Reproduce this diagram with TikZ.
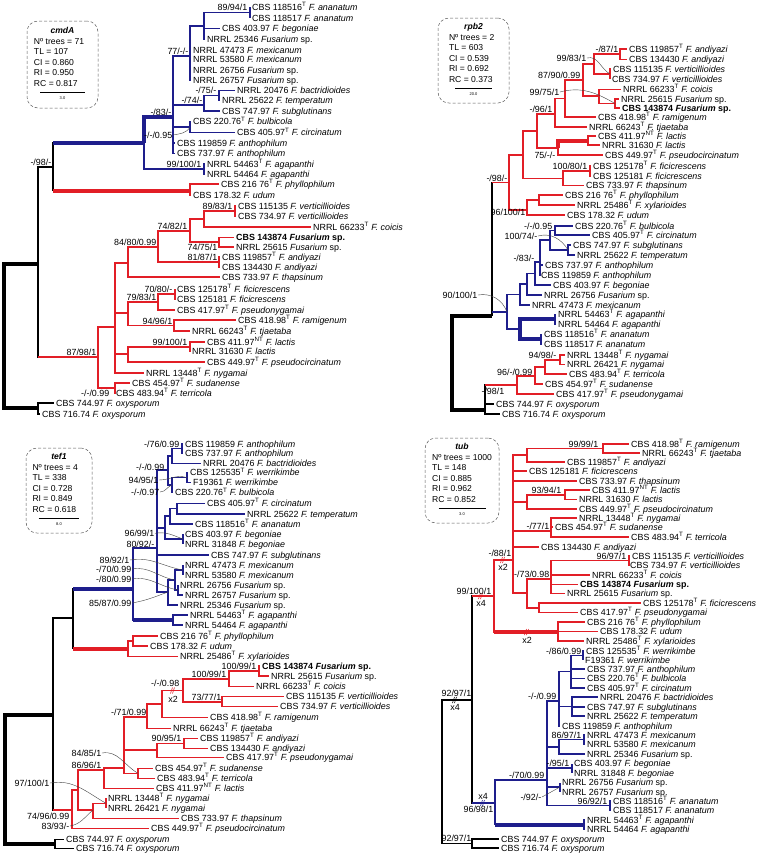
\documentclass[tikz,border=0pt]{standalone}
\usepackage{fontspec}
\setmainfont{Liberation Sans}
\usetikzlibrary{calc}
\definecolor{redb}{RGB}{226,30,38}
\definecolor{blueb}{RGB}{30,30,140}
\newcommand{\fs}{\fontsize{8.9}{10.5}\selectfont}
\newcommand{\fb}{\fontsize{8.6}{10.5}\selectfont}
\newcommand{\tp}{\textsuperscript{T}}
\newcommand{\ntp}{\textsuperscript{NT}}
\newcommand{\fu}[1]{\textit{F. #1}}
\newcommand{\fsp}{\textit{Fusarium} sp.}
\newcommand{\nov}{\textbf{CBS 143874 \textit{Fusarium} sp.}}
\newcommand{\brk}[3]{\draw[#3,line width=0.6pt] (#1-2.5,#2+3) -- ++(2,-6) (#1-0.5,#2+3) -- ++(2,-6);}
\newcommand{\stats}[8]{\begin{tabular}{@{}l@{}}\multicolumn{1}{c}{\textbf{\textit{#1}}}\\ Nº trees = #2\\ TL = #3\\ CI = #4\\ RI = #5\\ RC = #6\\[-2pt] \multicolumn{1}{c}{\rule[2pt]{#7pt}{0.7pt}}\\[-5.5pt] \multicolumn{1}{c}{\fontsize{4}{4}\selectfont #8}\end{tabular}}
\tikzset{lf/.style={anchor=west,inner xsep=2pt,inner ysep=0pt,text height=6.3pt,text depth=0pt,font=\fs},
  bs/.style={anchor=east,inner xsep=0.5pt,inner ysep=0pt,text height=6.3pt,text depth=0pt,font=\fs},
  xm/.style={inner sep=0pt,font=\fs},
  bk/.style={draw=black,line width=1.2pt},
  rd/.style={draw=redb,line width=1.2pt},
  bl/.style={draw=blueb,line width=1.2pt},
  thk/.style={line width=4pt},
  lead/.style={draw=black!75,line width=0.4pt},
  sbox/.style={draw=black!65,densely dashed,line width=0.5pt,rounded corners=11pt,inner sep=0pt,font=\fb}}

\begin{document}
\begin{tikzpicture}[x=1pt,y=-1pt]
\useasboundingbox (0,0) rectangle (757,855);
% cmdA
\node[sbox,minimum width=71pt,minimum height=87pt] (cbox) at (62.5,64.5) {\stats{cmdA}{71}{107}{0.860}{0.950}{0.817}{45}{3.0}};
\node[lf] (c1) at (250,7.3) {CBS 118516\tp{} \fu{ananatum}};
\node[lf] (c2) at (250,18) {CBS 118517 \fu{ananatum}};
\node[lf] (c3) at (220,28.7) {CBS 403.97 \fu{begoniae}};
\node[lf] (c4) at (205,39.3) {NRRL 25346 \fsp};
\node[lf] (c5) at (191,50) {NRRL 47473 \fu{mexicanum}};
\node[lf] (c6) at (191,59.5) {NRRL 53580 \fu{mexicanum}};
\node[lf] (c7) at (191,70.5) {NRRL 26756 \fsp};
\node[lf] (c8) at (191,80) {NRRL 26757 \fsp};
\node[lf] (c9) at (235,90.7) {NRRL 20476 \fu{bactridioides}};
\node[lf] (c10) at (220,100.7) {NRRL 25622 \fu{temperatum}};
\node[lf] (c11) at (220,111) {CBS 747.97 \fu{subglutinans}};
\node[lf] (c12) at (191,121.7) {CBS 220.76\tp{} \fu{bulbicola}};
\node[lf] (c13) at (235,132.7) {CBS 405.97\tp{} \fu{circinatum}};
\node[lf] (c14) at (175,143) {CBS 119859 \fu{anthophilum}};
\node[lf] (c15) at (175,153.5) {CBS 737.97 \fu{anthophilum}};
\node[lf] (c16) at (205,164) {NRRL 54463\tp{} \fu{agapanthi}};
\node[lf] (c17) at (205,174) {NRRL 54464 \fu{agapanthi}};
\node[lf] (c18) at (219,184) {CBS 216 76\tp{} \fu{phyllophilum}};
\node[lf] (c19) at (191,195) {CBS 178.32 \fu{udum}};
\node[lf] (c20) at (236,206) {CBS 115135 \fu{verticillioides}};
\node[lf] (c21) at (236,216) {CBS 734.97 \fu{verticillioides}};
\node[lf] (c22) at (311,227) {NRRL 66233\tp{} \fu{coicis}};
\node[lf] (c23) at (234,237.5) {\nov};
\node[lf] (c24) at (234,247) {NRRL 25615 \fsp};
\node[lf] (c25) at (220,257) {CBS 119857\tp{} \fu{andiyazi}};
\node[lf] (c26) at (220,267.5) {CBS 134430 \fu{andiyazi}};
\node[lf] (c27) at (220,277) {CBS 733.97 \fu{thapsinum}};
\node[lf] (c28) at (175,289) {CBS 125178\tp{} \fu{ficicrescens}};
\node[lf] (c29) at (175,299.5) {CBS 125181 \fu{ficicrescens}};
\node[lf] (c30) at (175,310) {CBS 417.97\tp{} \fu{pseudonygamai}};
\node[lf] (c31) at (236,320) {CBS 418.98\tp{} \fu{ramigenum}};
\node[lf] (c32) at (190,331) {NRRL 66243\tp{} \fu{tjaetaba}};
\node[lf] (c33) at (205,342) {CBS 411.97\ntp{} \fu{lactis}};
\node[lf] (c34) at (190,351.5) {NRRL 31630 \fu{lactis}};
\node[lf] (c35) at (205,362) {CBS 449.97\tp{} \fu{pseudocircinatum}};
\node[lf] (c36) at (144,373) {NRRL 13448\tp{} \fu{nygamai}};
\node[lf] (c37) at (130,383) {CBS 454.97\tp{} \fu{sudanense}};
\node[lf] (c38) at (114,393) {CBS 483.94\tp{} \fu{terricola}};
\node[lf] (c39) at (54,403) {CBS 744.97 \fu{oxysporum}};
\node[lf] (c40) at (40,414) {CBS 716.74 \fu{oxysporum}};
\coordinate (ca1) at (250,12.5);
\coordinate (ca2) at (204,26);
\coordinate (ca3) at (190,56);
\coordinate (ca4) at (219,95.7);
\coordinate (ca5) at (204,105);
\coordinate (ca6) at (190,127);
\coordinate (ca7) at (173,117);
\coordinate (ca8) at (144,143);
\coordinate (ca9) at (204,169);
\coordinate (ca10) at (190,190.7);
\coordinate (ca11) at (53,167);
\coordinate (ca12) at (235,211);
\coordinate (ca13) at (204,219);
\coordinate (ca14) at (219,242);
\coordinate (ca15) at (190,231);
\coordinate (ca16) at (219,262);
\coordinate (ca17) at (158,247);
\coordinate (ca18) at (128,263);
\coordinate (ca19) at (175,294);
\coordinate (ca20) at (158,302);
\coordinate (ca21) at (174,325.5);
\coordinate (ca22) at (128,313);
\coordinate (ca23) at (190,347);
\coordinate (ca24) at (128,354);
\coordinate (ca25) at (115,327);
\coordinate (ca26) at (115,388);
\coordinate (ca27) at (98,357);
\coordinate (ca28) at (38,264);
\coordinate (ca29) at (38,408);
\coordinate (ca30) at (4,336);
\draw[bl] (ca1) |- (c1.west) (ca1) |- (c2.west);
\draw[bl] (ca2) |- (ca1) (ca2) |- (c3.west) (ca2) |- (c4.west);
\draw[bl] (ca3) |- (ca2) (ca3) |- (c5.west) (ca3) |- (c6.west) (ca3) |- (c7.west) (ca3) |- (c8.west);
\draw[bl] (ca4) |- (c9.west) (ca4) |- (c10.west);
\draw[bl] (ca5) |- (ca4) (ca5) |- (c11.west);
\draw[bl] (ca6) |- (c12.west) (ca6) |- (c13.west);
\draw[bl] (ca7) |- (ca3) (ca7) |- (ca5) (ca7) |- (ca6) (ca7) |- (c14.west) (ca7) |- (c15.west);
\draw[bl,thk] (ca8) |- (ca7);
\draw[bl] (ca8) |- (ca9);
\draw[bl] (ca9) |- (c16.west) (ca9) |- (c17.west);
\draw[rd] (ca10) |- (c18.west) (ca10) |- (c19.west);
\draw[bk] (ca11) |- (ca8) (ca11) |- (ca10);
\draw[bl,thk] (ca11 |- ca8) -- (ca8);
\draw[rd,thk] (ca11 |- ca10) -- (ca10);
\draw[rd] (ca12) |- (c20.west) (ca12) |- (c21.west);
\draw[rd] (ca13) |- (ca12) (ca13) |- (c22.west);
\draw[rd] (ca14) |- (c23.west) (ca14) |- (c24.west);
\draw[rd] (ca15) |- (ca13) (ca15) |- (ca14);
\draw[rd] (ca16) |- (c25.west) (ca16) |- (c26.west);
\draw[rd] (ca17) |- (ca15) (ca17) |- (ca16);
\draw[rd] (ca18) |- (ca17) (ca18) |- (c27.west);
\draw[rd] (ca19) |- (c28.west) (ca19) |- (c29.west);
\draw[rd] (ca20) |- (ca19) (ca20) |- (c30.west);
\draw[rd] (ca21) |- (c31.west) (ca21) |- (c32.west);
\draw[rd] (ca22) |- (ca20) (ca22) |- (ca21);
\draw[rd] (ca23) |- (c33.west) (ca23) |- (c34.west);
\draw[rd] (ca24) |- (ca23) (ca24) |- (c35.west);
\draw[rd] (ca25) |- (ca18) (ca25) |- (ca22) (ca25) |- (ca24) (ca25) |- (c36.west);
\draw[rd] (ca26) |- (c37.west) (ca26) |- (c38.west);
\draw[rd] (ca27) |- (ca25) (ca27) |- (ca26);
\draw[bk] (ca28) |- (ca11) (ca28) |- (ca27);
\draw[rd] (ca28 |- ca27) -- (ca27);
\draw[bk] (ca29) |- (c39.west) (ca29) |- (c40.west);
\draw[bk,thk] (ca30) |- (ca28) (ca30) |- (ca29);
\node[bs] (lca1) at (248,7.3) {89/94/1};
\node[bs] (lca3) at (189,51) {77/-/-};
\node[bs] (lca4) at (217,90.7) {-/75/-};
\node[bs] (lca5) at (203,100.5) {-/74/-};
\node[bs] (lca6) at (173,135) {-/-/0.95};
\node[bs] (lca7) at (172,112.5) {-/83/-};
\node[bs] (lca9) at (202,164) {99/100/1};
\node[bs] (lca11) at (52,162.5) {-/98/-};
\node[bs] (lca12) at (233,206.5) {89/83/1};
\node[bs] (lca15) at (188,226.5) {74/82/1};
\node[bs] (lca14) at (218,247) {74/75/1};
\node[bs] (lca16) at (218,257) {81/87/1};
\node[bs] (lca17) at (157,242.5) {84/80/0.99};
\node[bs] (lca19) at (173,289) {70/80/-};
\node[bs] (lca20) at (157,297) {79/83/1};
\node[bs] (lca21) at (173,321) {94/96/1};
\node[bs] (lca23) at (188,342) {99/100/1};
\node[bs] (lca27) at (97,352) {87/98/1};
\node[bs] (lca26) at (110,393) {-/-/0.99};
\draw[lead] (lca6.east) to[out=10,in=-120] (ca6);
% rpb2
\node[sbox,minimum width=71pt,minimum height=85pt] (rbox) at (473.5,60.5) {\stats{rpb2}{2}{603}{0.539}{0.692}{0.373}{37}{20.0}};
\node[lf] (r1) at (627,49) {CBS 119857\tp{} \fu{andiyazi}};
\node[lf] (r2) at (627,59.5) {CBS 134430 \fu{andiyazi}};
\node[lf] (r3) at (611,69) {CBS 115135 \fu{verticillioides}};
\node[lf] (r4) at (610,79) {CBS 734.97 \fu{verticillioides}};
\node[lf] (r5) at (621,89.5) {NRRL 66233\tp{} \fu{coicis}};
\node[lf] (r6) at (619,99) {NRRL 25615 \fsp};
\node[lf] (r7) at (620,108) {\nov};
\node[lf] (r8) at (596,117) {CBS 418.98\tp{} \fu{ramigenum}};
\node[lf] (r9) at (587,127) {NRRL 66243\tp{} \fu{tjaetaba}};
\node[lf] (r10) at (596,136) {CBS 411.97\ntp{} \fu{lactis}};
\node[lf] (r11) at (600,145) {NRRL 31630 \fu{lactis}};
\node[lf] (r12) at (603,155) {CBS 449.97\tp{} \fu{pseudocircinatum}};
\node[lf] (r13) at (591,166) {CBS 125178\tp{} \fu{ficicrescens}};
\node[lf] (r14) at (591,176) {CBS 125181 \fu{ficicrescens}};
\node[lf] (r15) at (584,185.5) {CBS 733.97 \fu{thapsinum}};
\node[lf] (r16) at (563,195) {CBS 216 76\tp{} \fu{phyllophilum}};
\node[lf] (r17) at (575,205) {NRRL 25486\tp{} \fu{xylarioides}};
\node[lf] (r18) at (565,215) {CBS 178.32 \fu{udum}};
\node[lf] (r19) at (573,226) {CBS 220.76\tp{} \fu{bulbicola}};
\node[lf] (r20) at (590,235) {CBS 405.97\tp{} \fu{circinatum}};
\node[lf] (r21) at (571,245) {CBS 747.97 \fu{subglutinans}};
\node[lf] (r22) at (575,255) {NRRL 25622 \fu{temperatum}};
\node[lf] (r23) at (543,265) {CBS 737.97 \fu{anthophilum}};
\node[lf] (r24) at (539,275) {CBS 119859 \fu{anthophilum}};
\node[lf] (r25) at (551,285) {CBS 403.97 \fu{begoniae}};
\node[lf] (r26) at (542,295) {NRRL 26756 \fsp};
\node[lf] (r27) at (530,305) {NRRL 47473 \fu{mexicanum}};
\node[lf] (r28) at (556,314.5) {NRRL 54463\tp{} \fu{agapanthi}};
\node[lf] (r29) at (556,324) {NRRL 54464 \fu{agapanthi}};
\node[lf] (r30) at (542,334.5) {CBS 118516\tp{} \fu{ananatum}};
\node[lf] (r31) at (542,344) {CBS 118517 \fu{ananatum}};
\node[lf] (r32) at (565,355) {NRRL 13448\tp{} \fu{nygamai}};
\node[lf] (r33) at (565,364.5) {NRRL 26421 \fu{nygamai}};
\node[lf] (r34) at (567,374) {CBS 483.94\tp{} \fu{terricola}};
\node[lf] (r35) at (543,384) {CBS 454.97\tp{} \fu{sudanense}};
\node[lf] (r36) at (554,394) {CBS 417.97\tp{} \fu{pseudonygamai}};
\node[lf] (r37) at (494,404) {CBS 744.97 \fu{oxysporum}};
\node[lf] (r38) at (500,414) {CBS 716.74 \fu{oxysporum}};
\coordinate (ra1) at (620,54);
\coordinate (ra2) at (610,74);
\coordinate (ra3) at (594,64);
\coordinate (ra4) at (615,103.5);
\coordinate (ra5) at (599,96);
\coordinate (ra6) at (583,80);
\coordinate (ra7) at (565,98.5);
\coordinate (ra8) at (555,114);
\coordinate (ra9) at (588,140.5);
\coordinate (ra10) at (558,148);
\coordinate (ra11) at (537,131);
\coordinate (ra12) at (590,171);
\coordinate (ra13) at (563,178.5);
\coordinate (ra14) at (523,155);
\coordinate (ra15) at (539,200);
\coordinate (ra16) at (527,210);
\coordinate (ra17) at (509,182.5);
\coordinate (rb1) at (555,230.5);
\coordinate (rb2) at (568,250);
\coordinate (rb3) at (550,240);
\coordinate (rb4) at (540,262);
\coordinate (rb5) at (535,273.5);
\coordinate (rb6) at (527,284);
\coordinate (rb7) at (520,294.5);
\coordinate (rb8) at (555,319);
\coordinate (rb9) at (541,339);
\coordinate (rb10) at (520,329);
\coordinate (rb11) at (507,312);
\coordinate (rn1) at (560,360);
\coordinate (rn2) at (545,367);
\coordinate (rn3) at (535,376);
\coordinate (rn4) at (517,385);
\coordinate (rk1) at (492,316);
\coordinate (rk2) at (485,410);
\coordinate (rk0) at (452,363);
\draw[rd] (ra1) |- (r1.west) (ra1) |- (r2.west);
\draw[rd] (ra2) |- (r3.west) (ra2) |- (r4.west);
\draw[rd] (ra3) |- (ra1) (ra3) |- (ra2);
\draw[rd] (ra4) |- (r6.west) (ra4) |- (r7.west);
\draw[rd] (ra5) |- (r5.west) (ra5) |- (ra4);
\draw[rd] (ra6) |- (ra3) (ra6) |- (ra5);
\draw[rd] (ra7) |- (ra6) (ra7) |- (r8.west);
\draw[rd] (ra8) |- (ra7) (ra8) |- (r9.west);
\draw[rd] (ra9) |- (r10.west) (ra9) |- (r11.west);
\draw[rd,thk] (ra10) |- (ra9);
\draw[rd] (ra10) |- (r12.west);
\draw[rd] (ra11) |- (ra8) (ra11) |- (ra10);
\draw[rd] (ra12) |- (r13.west) (ra12) |- (r14.west);
\draw[rd] (ra13) |- (ra12) (ra13) |- (r15.west);
\draw[rd] (ra14) |- (ra11) (ra14) |- (ra13);
\draw[rd] (ra15) |- (r16.west) (ra15) |- (r17.west);
\draw[rd] (ra16) |- (ra15) (ra16) |- (r18.west);
\draw[rd] (ra17) |- (ra14) (ra17) |- (ra16);
\draw[bl] (rb1) |- (r19.west) (rb1) |- (r20.west);
\draw[bl] (rb2) |- (r21.west) (rb2) |- (r22.west);
\draw[bl] (rb3) |- (rb1) (rb3) |- (rb2);
\draw[bl] (rb4) |- (rb3) (rb4) |- (r23.west) (rb4) |- (r24.west);
\draw[bl] (rb5) |- (rb4) (rb5) |- (r25.west);
\draw[bl] (rb6) |- (rb5) (rb6) |- (r26.west);
\draw[bl] (rb7) |- (rb6) (rb7) |- (r27.west);
\draw[bl] (rb8) |- (r28.west) (rb8) |- (r29.west);
\draw[bl] (rb9) |- (r30.west) (rb9) |- (r31.west);
\draw[bl,thk] (rb10) |- (rb8) (rb10) |- (rb9);
\draw[bl] (rb11) |- (rb7) (rb11) |- (rb10);
\draw[rd] (rn1) |- (r32.west) (rn1) |- (r33.west);
\draw[rd] (rn2) |- (rn1) (rn2) |- (r34.west);
\draw[rd] (rn3) |- (rn2) (rn3) |- (r35.west);
\draw[rd] (rn4) |- (rn3) (rn4) |- (r36.west);
\draw[bk] (rk1) |- (ra17) (rk1) |- (rb11);
\draw[rd] (rk1 |- ra17) -- (ra17);
\draw[bl] (rk1 |- rb11) -- (rb11);
\draw[bk] (rk2) |- (rn4) (rk2) |- (r37.west) (rk2) |- (r38.west);
\draw[rd] (rk2 |- rn4) -- (rn4);
\draw[bk,thk] (rk0) |- (rk1) (rk0) |- (rk2);
\node[bs] (lra1) at (619,49) {-/87/1};
\node[bs] (lra2) at (587,58) {99/83/1};
\node[bs] (lra4) at (560,92) {99/75/1};
\node[bs] (lra6) at (581,75) {87/90/0.99};
\node[bs] (lra8) at (553,109.5) {-/96/1};
\node[bs] (lra10) at (556,155) {75/-/-};
\node[bs] (lra12) at (588,166) {100/80/1};
\node[bs] (lra16) at (526,212.5) {96/100/1};
\node[bs] (lra17) at (508,178) {-/98/-};
\node[bs] (lrb1) at (553,226) {-/-/0.95};
\node[bs] (lrb2) at (538,236) {100/74/-};
\node[bs] (lrb4) at (535,258) {-/83/-};
\node[bs] (lrb11) at (478,295) {90/100/1};
\node[bs] (lrn1) at (557,355) {94/98/-};
\node[bs] (lrn3) at (533,372) {96/-/0.99};
\node[bs] (lrn4) at (505,391) {-/98/1};
\draw[lead] (lra2.east) to[out=15,in=150] (ra2);
\draw[lead] (lra4.east) to[out=15,in=150] (ra4);
\draw[lead] (lrb2.east) to[out=15,in=120] (rb2);
\draw[lead] (lrb11.east) to[out=10,in=110] (rb11);
% tef1
\node[sbox,minimum width=66pt,minimum height=85pt] (tbox) at (59,490.5) {\stats{tef1}{4}{338}{0.728}{0.849}{0.618}{41}{8.0}};
\node[lf] (t1) at (183,444) {CBS 119859 \fu{anthophilum}};
\node[lf] (t2) at (183,453.3) {CBS 737.97 \fu{anthophilum}};
\node[lf] (t3) at (201,463.3) {NRRL 20476 \fu{bactridioides}};
\node[lf] (t4) at (188,472.7) {CBS 125535\tp{} \fu{werrikimbe}};
\node[lf] (t5) at (191,482.7) {F19361 \fu{werrikimbe}};
\node[lf] (t6) at (173,492.7) {CBS 220.76\tp{} \fu{bulbicola}};
\node[lf] (t7) at (205,503.3) {CBS 405.97\tp{} \fu{circinatum}};
\node[lf] (t8) at (245,514) {NRRL 25622 \fu{temperatum}};
\node[lf] (t9) at (193,524) {CBS 118516\tp{} \fu{ananatum}};
\node[lf] (t10) at (183,534) {CBS 403.97 \fu{begoniae}};
\node[lf] (t11) at (183,544.3) {NRRL 31848 \fu{begoniae}};
\node[lf] (t12) at (209,555) {CBS 747.97 \fu{subglutinans}};
\node[lf] (t13) at (183,565) {NRRL 47473 \fu{mexicanum}};
\node[lf] (t14) at (183,575) {NRRL 53580 \fu{mexicanum}};
\node[lf] (t15) at (178,585) {NRRL 26756 \fsp};
\node[lf] (t16) at (183,595) {NRRL 26757 \fsp};
\node[lf] (t17) at (178,605) {NRRL 25346 \fsp};
\node[lf] (t18) at (188,615) {NRRL 54463\tp{} \fu{agapanthi}};
\node[lf] (t19) at (183,625) {NRRL 54464 \fu{agapanthi}};
\node[lf] (t20) at (158,636) {CBS 216 76\tp{} \fu{phyllophilum}};
\node[lf] (t21) at (148,646) {CBS 178.32 \fu{udum}};
\node[lf] (t22) at (178,656.5) {NRRL 25486\tp{} \fu{xylarioides}};
\node[lf] (t23) at (260,666) {\nov};
\node[lf] (t24) at (269,676) {NRRL 25615 \fsp};
\node[lf] (t25) at (254,686.5) {NRRL 66233\tp{} \fu{coicis}};
\node[lf] (t26) at (284,696.7) {CBS 115135 \fu{verticillioides}};
\node[lf] (t27) at (278,706.7) {CBS 734.97 \fu{verticillioides}};
\node[lf] (t28) at (208,717.3) {CBS 418.98\tp{} \fu{ramigenum}};
\node[lf] (t29) at (171,728.3) {NRRL 66243\tp{} \fu{tjaetaba}};
\node[lf] (t30) at (198,738.3) {CBS 119857\tp{} \fu{andiyazi}};
\node[lf] (t31) at (208,748.3) {CBS 134430 \fu{andiyazi}};
\node[lf] (t32) at (224,757.5) {CBS 417.97\tp{} \fu{pseudonygamai}};
\node[lf] (t33) at (153,768.3) {CBS 454.97\tp{} \fu{sudanense}};
\node[lf] (t34) at (155,778.3) {CBS 483.94\tp{} \fu{terricola}};
\node[lf] (t35) at (154,788.3) {CBS 411.97\ntp{} \fu{lactis}};
\node[lf] (t36) at (106,798.3) {NRRL 13448\tp{} \fu{nygamai}};
\node[lf] (t37) at (106,808.3) {NRRL 26421 \fu{nygamai}};
\node[lf] (t38) at (179,818.3) {CBS 733.97 \fu{thapsinum}};
\node[lf] (t39) at (149,828.3) {CBS 449.97\tp{} \fu{pseudocircinatum}};
\node[lf] (t40) at (64,839.3) {CBS 744.97 \fu{oxysporum}};
\node[lf] (t41) at (74,848.3) {CBS 716.74 \fu{oxysporum}};
\coordinate (ta1) at (182,448.7);
\coordinate (ta2) at (172,456);
\coordinate (ta3) at (187,477.7);
\coordinate (ta4) at (172,485);
\coordinate (ta5) at (168,470);
\coordinate (ta6) at (177,508.7);
\coordinate (ta7) at (170,516);
\coordinate (ta8) at (183,539);
\coordinate (ta9) at (165,528);
\coordinate (ta10) at (183,570);
\coordinate (ta11) at (178,590);
\coordinate (ta12) at (175,580);
\coordinate (ta13) at (168,592);
\coordinate (ta14) at (157,548);
\coordinate (ta15) at (173,620);
\coordinate (ta16) at (133,589);
\coordinate (tp1) at (133,641);
\coordinate (tp2) at (128,648.5);
\coordinate (tj) at (73,618);
\coordinate (tr1) at (259,671);
\coordinate (tr2) at (229,679);
\coordinate (tr3) at (222,702);
\coordinate (tr4) at (183,690.5);
\coordinate (tr5) at (162,704);
\coordinate (tr6) at (147,717);
\coordinate (tr7) at (184,743.3);
\coordinate (tr8) at (157,750);
\coordinate (tr9) at (138,773.3);
\coordinate (tr10) at (124,768);
\coordinate (tr11) at (104,770);
\coordinate (tr12) at (106,803.3);
\coordinate (tr13) at (93,810);
\coordinate (tr14) at (78,790);
\coordinate (tr15) at (72,810);
\coordinate (tk) at (53,715);
\coordinate (tox) at (55,843.8);
\coordinate (tk0) at (5,779);
\draw[bl] (ta1) |- (t1.west) (ta1) |- (t2.west);
\draw[bl] (ta2) |- (ta1) (ta2) |- (t3.west);
\draw[bl] (ta3) |- (t4.west) (ta3) |- (t5.west);
\draw[bl] (ta4) |- (ta3) (ta4) |- (t6.west);
\draw[bl] (ta5) |- (ta2) (ta5) |- (ta4);
\draw[bl] (ta6) |- (t7.west) (ta6) |- (t8.west);
\draw[bl] (ta7) |- (ta6) (ta7) |- (t9.west);
\draw[bl] (ta8) |- (t10.west) (ta8) |- (t11.west);
\draw[bl] (ta9) |- (ta7) (ta9) |- (ta8);
\draw[bl] (ta10) |- (t13.west) (ta10) |- (t14.west);
\draw[bl] (ta11) |- (t15.west) (ta11) |- (t16.west);
\draw[bl] (ta12) |- (ta10) (ta12) |- (ta11);
\draw[bl] (ta13) |- (ta12) (ta13) |- (t17.west);
\draw[bl] (ta14) |- (ta5) (ta14) |- (ta9) (ta14) |- (t12.west) (ta14) |- (ta13);
\draw[bl] (ta15) |- (t18.west) (ta15) |- (t19.west);
\draw[bl] (ta16) |- (ta14) (ta16) |- (ta15);
\draw[bl,thk] (ta16 |- ta15) -- (ta15);
\draw[rd] (tp1) |- (t20.west) (tp1) |- (t21.west);
\draw[rd] (tp2) |- (tp1) (tp2) |- (t22.west);
\draw[bk] (tj) |- (ta16) (tj) |- (tp2);
\draw[bl,thk] (tj |- ta16) -- (ta16);
\draw[rd,thk] (tj |- tp2) -- (tp2);
\draw[rd] (tr1) |- (t23.west) (tr1) |- (t24.west);
\draw[rd] (tr2) |- (tr1) (tr2) |- (t25.west);
\draw[rd] (tr3) |- (t26.west) (tr3) |- (t27.west);
\draw[rd] (tr4) |- (tr2) (tr4) |- (tr3);
\draw[rd] (tr5) |- (tr4) (tr5) |- (t28.west);
\draw[rd] (tr6) |- (tr5) (tr6) |- (t29.west);
\draw[rd] (tr7) |- (t30.west) (tr7) |- (t31.west);
\draw[rd] (tr8) |- (tr7) (tr8) |- (t32.west);
\draw[rd] (tr9) |- (t33.west) (tr9) |- (t34.west);
\draw[rd] (tr10) |- (tr6) (tr10) |- (tr8) (tr10) |- (tr9);
\draw[rd] (tr11) |- (tr10) (tr11) |- (t35.west);
\draw[rd] (tr12) |- (t36.west) (tr12) |- (t37.west);
\draw[rd] (tr13) |- (tr12) (tr13) |- (t38.west);
\draw[rd] (tr14) |- (tr11) (tr14) |- (tr13);
\draw[rd] (tr15) |- (tr14) (tr15) |- (t39.west);
\draw[bk] (tk) |- (tj) (tk) |- (tr15);
\draw[rd] (tk |- tr15) -- (tr15);
\draw[bk] (tox) |- (t40.west) (tox) |- (t41.west);
\draw[bk,thk] (tk0) |- (tk) (tk0) |- (tox);
\brk{173}{690.5}{redb}
\node[xm] (tx2) at (173,699) {x2};
\node[bs] (lta1) at (180,444) {-/76/0.99};
\node[bs] (lta5) at (165,467) {-/-/0.99};
\node[bs] (lta3) at (159,480) {94/95/1};
\node[bs] (lta4) at (160,492) {-/-/0.97};
\node[bs] (lta8) at (155,533.3) {96/99/1};
\node[bs] (lta14) at (155,544) {80/92/-};
\node[bs] (lta10) at (130,560) {89/92/1};
\node[bs] (lta12) at (132,569) {-/70/0.99};
\node[bs] (lta11) at (132,579) {-/80/0.99};
\node[bs] (lta13) at (132,603) {85/87/0.99};
\node[bs] (ltr1) at (257,666) {100/99/1};
\node[bs] (ltr2) at (227,674) {100/99/1};
\node[bs] (ltr4) at (180,683) {-/-/0.98};
\node[bs] (ltr3) at (222,697) {73/77/1};
\node[bs] (ltr6) at (147,712.5) {-/71/0.99};
\node[bs] (ltr7) at (182,738.3) {90/95/1};
\node[bs] (ltr9) at (102,753) {84/85/1};
\node[bs] (ltr11) at (102,765) {86/96/1};
\node[bs] (ltr12) at (50,783) {97/100/1};
\node[bs] (ltr15) at (70,816) {74/96/0.99};
\node[bs] (ltr13) at (70,826) {83/93/-};
\draw[lead] (lta3.east) to[out=0,in=160] (ta3);
\draw[lead] (lta4.east) to[out=0,in=200] (ta4);
\draw[lead] (lta8.east) to[out=10,in=160] (ta8);
\draw[lead] (lta10.east) to[out=10,in=170] (ta10);
\draw[lead] (lta12.east) to[out=10,in=170] (ta12);
\draw[lead] (lta11.east) to[out=10,in=170] (ta11);
\draw[lead] (lta13.east) to[out=10,in=200] (ta13);
\draw[lead] (ltr9.east) to[out=10,in=150] (tr9);
\draw[lead] (ltr12.east) to[out=10,in=150] (tr12);
\draw[lead] (ltr13.east) to[out=10,in=220] (tr13);
% tub
\node[sbox,minimum width=74pt,minimum height=85pt] (ubox) at (462,480.5) {\stats{tub}{1000}{148}{0.885}{0.962}{0.852}{47}{3.0}};
\node[lf] (u1) at (629,444) {CBS 418.98\tp{} \fu{ramigenum}};
\node[lf] (u2) at (640,453) {NRRL 66243\tp{} \fu{tjaetaba}};
\node[lf] (u3) at (565,462) {CBS 119857\tp{} \fu{andiyazi}};
\node[lf] (u4) at (527,471) {CBS 125181 \fu{ficicrescens}};
\node[lf] (u5) at (577,481) {CBS 733.97 \fu{thapsinum}};
\node[lf] (u6) at (590,490) {CBS 411.97\ntp{} \fu{lactis}};
\node[lf] (u7) at (577,499.5) {NRRL 31630 \fu{lactis}};
\node[lf] (u8) at (577,509) {CBS 449.97\tp{} \fu{pseudocircinatum}};
\node[lf] (u9) at (577,518) {NRRL 13448\tp{} \fu{nygamai}};
\node[lf] (u10) at (553,527) {CBS 454.97\tp{} \fu{sudanense}};
\node[lf] (u11) at (629,537) {CBS 483.94\tp{} \fu{terricola}};
\node[lf] (u12) at (539,547) {CBS 134430 \fu{andiyazi}};
\node[lf] (u13) at (630,556) {CBS 115135 \fu{verticillioides}};
\node[lf] (u14) at (628,565) {CBS 734.97 \fu{verticillioides}};
\node[lf] (u15) at (590,575) {NRRL 66233\tp{} \fu{coicis}};
\node[lf] (u16) at (578,584.5) {\nov};
\node[lf] (u17) at (565,593.5) {NRRL 25615 \fsp};
\node[lf] (u18) at (641,603) {CBS 125178\tp{} \fu{ficicrescens}};
\node[lf] (u19) at (578,612.5) {CBS 417.97\tp{} \fu{pseudonygamai}};
\node[lf] (u20) at (585,622) {CBS 216 76\tp{} \fu{phyllophilum}};
\node[lf] (u21) at (598,631.5) {CBS 178.32 \fu{udum}};
\node[lf] (u22) at (584,641) {NRRL 25486\tp{} \fu{xylarioides}};
\node[lf] (u23) at (584,651) {CBS 125535\tp{} \fu{werrikimbe}};
\node[lf] (u24) at (583,660) {F19361 \fu{werrikimbe}};
\node[lf] (u25) at (585,669) {CBS 737.97 \fu{anthophilum}};
\node[lf] (u26) at (585,678.5) {CBS 220.76\tp{} \fu{bulbicola}};
\node[lf] (u27) at (585,688) {CBS 405.97\tp{} \fu{circinatum}};
\node[lf] (u28) at (598,697) {NRRL 20476 \fu{bactridioides}};
\node[lf] (u29) at (585,707) {CBS 747.97 \fu{subglutinans}};
\node[lf] (u30) at (585,716) {NRRL 25622 \fu{temperatum}};
\node[lf] (u31) at (560,726) {CBS 119859 \fu{anthophilum}};
\node[lf] (u32) at (585,735) {NRRL 47473 \fu{mexicanum}};
\node[lf] (u33) at (585,744.5) {NRRL 53580 \fu{mexicanum}};
\node[lf] (u34) at (585,754) {NRRL 25346 \fsp};
\node[lf] (u35) at (572,763.5) {CBS 403.97 \fu{begoniae}};
\node[lf] (u36) at (572,773) {NRRL 31848 \fu{begoniae}};
\node[lf] (u37) at (560,782.5) {NRRL 26756 \fsp};
\node[lf] (u38) at (560,792) {NRRL 26757 \fsp};
\node[lf] (u39) at (611,801) {CBS 118516\tp{} \fu{ananatum}};
\node[lf] (u40) at (611,810.5) {CBS 118517 \fu{ananatum}};
\node[lf] (u41) at (585,820) {NRRL 54463\tp{} \fu{agapanthi}};
\node[lf] (u42) at (585,829) {NRRL 54464 \fu{agapanthi}};
\node[lf] (u43) at (499,839) {CBS 744.97 \fu{oxysporum}};
\node[lf] (u44) at (499,848) {CBS 716.74 \fu{oxysporum}};
\coordinate (ua1) at (603,448.5);
\coordinate (ua2) at (527,455);
\coordinate (ua3) at (565,495);
\coordinate (ua4) at (527,502);
\coordinate (ua5) at (551,531);
\coordinate (ua6) at (629,560.5);
\coordinate (ua7) at (551,579);
\coordinate (ua8) at (539,608);
\coordinate (ua9) at (527,593);
\coordinate (ua10) at (513,560);
\coordinate (ua12) at (558,632);
\coordinate (ua11) at (494,596);
\coordinate (ub1) at (583,655.5);
\coordinate (ub2) at (571,671.5);
\coordinate (ub3) at (572,706.5);
\coordinate (ub4) at (559,701);
\coordinate (ub5) at (584,739.5);
\coordinate (ub6) at (559,747);
\coordinate (ub7) at (572,768);
\coordinate (ub8) at (560,787);
\coordinate (ub9) at (610,805.5);
\coordinate (ub10) at (547,780);
\coordinate (ub11) at (584,824.5);
\coordinate (ub12) at (495,803);
\coordinate (uk1) at (472,700);
\coordinate (uox) at (472,843.5);
\coordinate (uk0) at (442,772);
\draw[rd] (ua1) |- (u1.west) (ua1) |- (u2.west);
\draw[rd] (ua2) |- (ua1) (ua2) |- (u3.west);
\draw[rd] (ua3) |- (u6.west) (ua3) |- (u7.west);
\draw[rd] (ua4) |- (ua3) (ua4) |- (u8.west);
\draw[rd] (ua5) |- (u9.west) (ua5) |- (u10.west) (ua5) |- (u11.west);
\draw[rd] (ua6) |- (u13.west) (ua6) |- (u14.west);
\draw[rd] (ua7) |- (ua6) (ua7) |- (u15.west) (ua7) |- (u16.west) (ua7) |- (u17.west);
\draw[rd] (ua8) |- (u18.west) (ua8) |- (u19.west);
\draw[rd] (ua9) |- (ua7) (ua9) |- (ua8);
\draw[rd] (ua10) |- (ua2) (ua10) |- (u4.west) (ua10) |- (u5.west) (ua10) |- (ua4) (ua10) |- (ua5) (ua10) |- (u12.west) (ua10) |- (ua9);
\draw[rd] (ua12) |- (u20.west) (ua12) |- (u21.west) (ua12) |- (u22.west);
\draw[rd] (ua11) |- (ua10) (ua11) |- (ua12);
\draw[rd,thk] (ua11 |- ua12) -- (ua12);
\draw[bl] (ub1) |- (u23.west) (ub1) |- (u24.west);
\draw[bl] (ub2) |- (ub1) (ub2) |- (u25.west) (ub2) |- (u26.west) (ub2) |- (u27.west);
\draw[bl] (ub3) |- (u28.west) (ub3) |- (u29.west) (ub3) |- (u30.west);
\draw[bl] (ub4) |- (ub2) (ub4) |- (ub3) (ub4) |- (u31.west);
\draw[bl] (ub5) |- (u32.west) (ub5) |- (u33.west);
\draw[bl] (ub6) |- (ub5) (ub6) |- (u34.west);
\draw[bl] (ub7) |- (u35.west) (ub7) |- (u36.west);
\draw[bl] (ub8) |- (u37.west) (ub8) |- (u38.west);
\draw[bl] (ub9) |- (u39.west) (ub9) |- (u40.west);
\draw[bl] (ub10) |- (ub4) (ub10) |- (ub6) (ub10) |- (ub7) (ub10) |- (ub8) (ub10) |- (ub9);
\draw[bl] (ub11) |- (u41.west) (ub11) |- (u42.west);
\draw[bl] (ub12) |- (ub10) (ub12) |- (ub11);
\draw[bl,thk] (ub12 |- ub11) -- (ub11);
\draw[bk] (uk1) |- (ua11) (uk1) |- (ub12);
\draw[rd] (uk1 |- ua11) -- (ua11);
\draw[bl] (uk1 |- ub12) -- (ub12);
\draw[bk] (uox) |- (u43.west) (uox) |- (u44.west);
\draw[bk] (uk0) |- (uk1) (uk0) |- (uox);
\brk{503}{560}{redb}
\brk{527}{632}{redb}
\brk{481}{596}{redb}
\brk{483}{803}{blueb}
\brk{455}{700}{black}
\node[xm] (ux1) at (503,567.5) {x2};
\node[xm] (ux2) at (527,640) {x2};
\node[xm] (ux3) at (481,603) {x4};
\node[xm] (ux4) at (483,796) {x4};
\node[xm] (ux5) at (455,707) {x4};
\node[bs] (lua1) at (599,444) {99/99/1};
\node[bs] (lua3) at (562,490) {93/94/1};
\node[bs] (lua5) at (550,526.5) {-/77/1};
\node[bs] (lua6) at (627,556) {96/97/1};
\node[bs] (lua7) at (550,574.5) {-/73/0.98};
\node[bs] (lua10) at (512,553) {-/88/1};
\node[bs] (lua11) at (492,591) {99/100/1};
\node[bs] (lub1) at (582,651) {-/86/0.99};
\node[bs] (lub4) at (557,696.5) {-/-/0.99};
\node[bs] (lub5) at (582,735) {86/97/1};
\node[bs] (lub7) at (570,763.5) {-/95/1};
\node[bs] (lub8) at (542,797) {-/92/-};
\node[bs] (lub9) at (608,801) {96/92/1};
\node[bs] (lub10) at (545,775) {-/70/0.99};
\node[bs] (lub12) at (494,809.5) {96/98/1};
\node[bs] (luk1) at (472,693) {92/97/1};
\node[bs] (luox) at (472,838.5) {92/97/1};
\draw[lead] (lub8.east) -- (ub8);
\end{tikzpicture}
\end{document}
